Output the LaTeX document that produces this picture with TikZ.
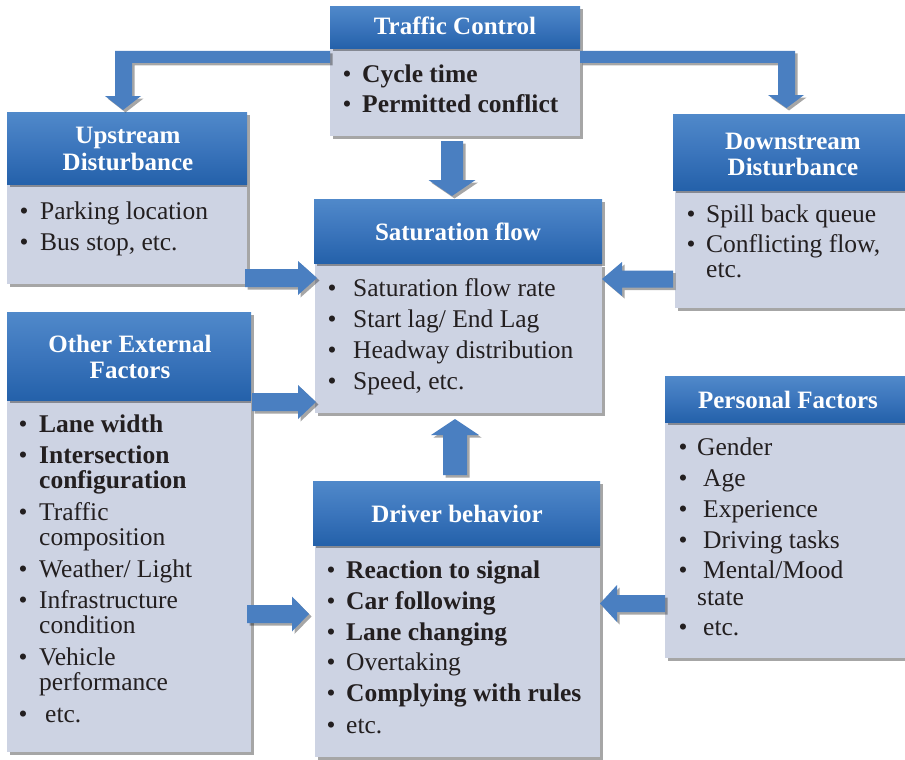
\documentclass[tikz,border=0pt]{standalone}
\usepackage{fontspec}
\setmainfont{Liberation Serif}
\usetikzlibrary{calc,shadows}
\definecolor{hbtop}{HTML}{5089CA}
\definecolor{hbmid}{HTML}{3B75BC}
\definecolor{hbbot}{HTML}{2461AA}
\definecolor{bodyc}{HTML}{CDD3E3}
\definecolor{arrc}{HTML}{4A7FC1}
\definecolor{txtc}{HTML}{231F20}
\tikzset{
  x=1pt,y=1pt,
  shad/.style={drop shadow={shadow xshift=2.5pt,shadow yshift=-2.5pt,opacity=.35,fill=black}},
  hdr/.style={rectangle,inner sep=0,anchor=north west,top color=hbtop,bottom color=hbbot,middle color=hbmid,shad},
  bodybox/.style={rectangle,inner sep=0,anchor=north west,fill=bodyc,shad},
  htxt/.style={text=white,font=\fontsize{25}{30}\selectfont\bfseries,anchor=base,inner sep=0},
  txt/.style={text=txtc,font=\fontsize{25.5}{30}\selectfont,anchor=base west,inner sep=0},
  btxt/.style={text=txtc,font=\fontsize{25.5}{30}\selectfont\bfseries,anchor=base west,inner sep=0},
  bul/.style={text=txtc,font=\fontsize{25.5}{30}\selectfont,anchor=base,inner sep=0},
  arr/.style={fill=arrc,shad},
}
\newcommand\barrow[5]{%
  \coordinate (bxC) at ($(#2)!#5!(#1)$);
  \fill[arr] ($(#1)!#3!90:(#2)$) -- ($(bxC)!#3!90:(#2)$) -- ($(bxC)!#4!90:(#2)$) -- (#2)
    -- ($(bxC)!#4!-90:(#2)$) -- ($(bxC)!#3!-90:(#2)$) -- ($(#1)!#3!-90:(#2)$) -- cycle;}
\newcommand\bitem[6]{% name, style, bullet x, text x, baseline, text
  \node[bul] (#1b) at (#3,-#5) {\textbullet};
  \node[#2] (#1) at (#4,-#5) {#6};}
\begin{document}
\begin{tikzpicture}
\useasboundingbox (0,0) rectangle (905,-760);
\fill[white] (0,0) rectangle (905,-760);

% bodies
\node[bodybox,minimum width=250,minimum height=88] (tcB) at (330,-48) {};
\node[bodybox,minimum width=240,minimum height=100] (upB) at (7,-184) {};
\node[bodybox,minimum width=235,minimum height=118] (dnB) at (675,-190) {};
\node[bodybox,minimum width=287,minimum height=149] (sfB) at (315,-264) {};
\node[bodybox,minimum width=244,minimum height=352] (oeB) at (7,-400) {};
\node[bodybox,minimum width=245,minimum height=236] (pfB) at (665,-422) {};
\node[bodybox,minimum width=285,minimum height=212] (dbB) at (315,-545) {};

% headers
\node[hdr,minimum width=250,minimum height=42] (tcH) at (330,-6) {};
\node[hdr,minimum width=240,minimum height=72] (upH) at (7,-112) {};
\node[hdr,minimum width=237,minimum height=76] (dnH) at (673,-114) {};
\node[hdr,minimum width=288,minimum height=64] (sfH) at (314,-199) {};
\node[hdr,minimum width=244,minimum height=88] (oeH) at (7,-312) {};
\node[hdr,minimum width=245,minimum height=46] (pfH) at (665,-376) {};
\node[hdr,minimum width=287,minimum height=64] (dbH) at (313,-481) {};

% header texts
\node[htxt] (tcT) at (455,-35) {Traffic Control};
\node[htxt] (upT1) at (128,-143) {Upstream};
\node[htxt] (upT2) at (128,-170) {Disturbance};
\node[htxt] (dnT1) at (793,-149) {Downstream};
\node[htxt] (dnT2) at (793,-175) {Disturbance};
\node[htxt] (sfT) at (458,-240) {Saturation flow};
\node[htxt] (oeT1) at (130,-352) {Other External};
\node[htxt] (oeT2) at (130,-378) {Factors};
\node[htxt] (pfT) at (788,-408) {Personal Factors};
\node[htxt] (dbT) at (457,-522) {Driver behavior};

% Traffic control body
\bitem{tc1}{btxt}{347}{362}{82}{Cycle time}
\bitem{tc2}{btxt}{347}{362}{112}{Permitted conflict}
% Upstream body
\bitem{up1}{txt}{24}{40}{219}{Parking location}
\bitem{up2}{txt}{24}{40}{250}{Bus stop, etc.}
% Downstream body
\bitem{dn1}{txt}{691}{706}{222}{Spill back queue}
\bitem{dn2}{txt}{691}{706}{252}{Conflicting flow,}
\node[txt] (dn3) at (706,-277) {etc.};
% Saturation body
\bitem{sf1}{txt}{332}{353}{296}{Saturation flow rate}
\bitem{sf2}{txt}{332}{353}{327}{Start lag/ End Lag}
\bitem{sf3}{txt}{332}{353}{358}{Headway distribution}
\bitem{sf4}{txt}{332}{353}{389}{Speed, etc.}
% Other external body
\bitem{oe1}{btxt}{23}{39}{432}{Lane width}
\bitem{oe2}{btxt}{23}{39}{463}{Intersection}
\node[btxt] (oe2b) at (39,-488) {configuration};
\bitem{oe3}{txt}{23}{39}{520}{Traffic}
\node[txt] (oe3b) at (39,-545) {composition};
\bitem{oe4}{txt}{23}{39}{577}{Weather/ Light}
\bitem{oe5}{txt}{23}{39}{608}{Infrastructure}
\node[txt] (oe5b) at (39,-633) {condition};
\bitem{oe6}{txt}{23}{39}{665}{Vehicle}
\node[txt] (oe6b) at (39,-690) {performance};
\bitem{oe7}{txt}{23}{45}{722}{etc.}
% Personal body
\bitem{pf1}{txt}{683}{697}{455}{Gender}
\bitem{pf2}{txt}{683}{703}{486}{Age}
\bitem{pf3}{txt}{683}{703}{517}{Experience}
\bitem{pf4}{txt}{683}{703}{548}{Driving tasks}
\bitem{pf5}{txt}{683}{703}{578}{Mental/Mood}
\node[txt] (pf5b) at (697,-605) {state};
\bitem{pf6}{txt}{683}{703}{635}{etc.}
% Driver body
\bitem{db1}{btxt}{331}{346}{578}{Reaction to signal}
\bitem{db2}{btxt}{331}{346}{609}{Car following}
\bitem{db3}{btxt}{331}{346}{640}{Lane changing}
\bitem{db4}{txt}{331}{346}{670}{Overtaking}
\bitem{db5}{btxt}{331}{346}{701}{Complying with rules}
\bitem{db6}{txt}{331}{346}{733}{etc.}

% bracket arrows from traffic control
\fill[arr] (330,-51) -- (115,-51) -- (115,-96) -- (105,-96) -- (123,-110) -- (141,-96)
  -- (132,-96) -- (132,-63) -- (330,-63) -- cycle;
\fill[arr] (580,-51) -- (795,-51) -- (795,-95) -- (804,-95) -- (786.5,-108) -- (768,-95)
  -- (778,-95) -- (778,-63) -- (580,-63) -- cycle;

% straight block arrows
\coordinate (a1s) at (245,-278);   \coordinate (a1e) at (317,-278);
\coordinate (a2s) at (673,-279);   \coordinate (a2e) at (602,-279);
\coordinate (a3s) at (252,-402);   \coordinate (a3e) at (316,-402);
\coordinate (a4s) at (247,-614);   \coordinate (a4e) at (309,-614);
\coordinate (a5s) at (665,-603.5); \coordinate (a5e) at (600,-603.5);
\coordinate (a6s) at (455,-475);   \coordinate (a6e) at (455,-419);
\coordinate (a7s) at (452,-141);   \coordinate (a7e) at (452,-196);
\barrow{a1s}{a1e}{9pt}{17pt}{19pt}
\barrow{a2s}{a2e}{8.5pt}{17pt}{20pt}
\barrow{a3s}{a3e}{9pt}{17pt}{18pt}
\barrow{a4s}{a4e}{9pt}{17.5pt}{17pt}
\barrow{a5s}{a5e}{8.5pt}{18.5pt}{17pt}
\barrow{a6s}{a6e}{12pt}{24pt}{16pt}
\barrow{a7s}{a7e}{11pt}{23.5pt}{16pt}
\end{tikzpicture}
\end{document}
